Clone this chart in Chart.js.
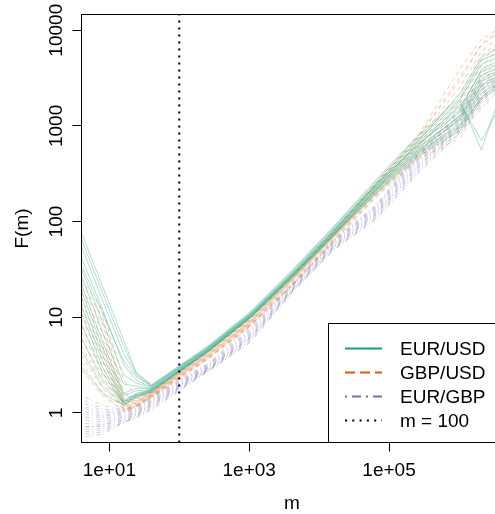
<!DOCTYPE html>
<html>
<head>
<meta charset="utf-8">
<script src="https://cdn.jsdelivr.net/npm/chart.js@4"></script>
<style>
  body { margin: 0; overflow: hidden; background: #fff; }
  canvas { display: block; }
</style>
</head>
<body>
<canvas id="fmChart" width="520" height="514"></canvas>
<script>
// window sizes m (log spaced) and F(m) for each sampled window of each pair
const mValues = [4, 8, 16, 24, 40, 256, 1024, 4096, 16384, 65536, 262144, 1048576, 2097152, 4194304];

const eurUsdLines = [
    [76, 21, 5.8, 2.7, 1.95, 5.0, 11.3, 31, 90, 275, 800, 2000, 4900, 6000],
    [55, 15, 4.2, 2.5, 1.9, 4.85, 10.9, 29.5, 86, 255, 720, 1800, 560, 2500],
    [32, 9, 2.5, 2.05, 1.85, 4.7, 10.6, 28.5, 82, 240, 650, 1400, 3400, 4200],
    [22, 5.5, 1.6, 1.8, 1.8, 4.6, 10.3, 27.5, 79, 230, 600, 1250, 2900, 3800],
    [16, 4.0, 1.35, 1.6, 1.75, 4.5, 10.1, 27, 76, 220, 560, 1150, 2600, 3300],
    [11, 3.0, 1.25, 1.5, 1.7, 4.4, 9.9, 26, 73, 205, 520, 1000, 2200, 3000],
    [6, 2.2, 1.3, 1.55, 1.75, 4.45, 10.0, 26.5, 74, 215, 680, 1600, 3700, 4600],
    [3, 1.6, 1.2, 1.45, 1.65, 4.3, 9.7, 25, 70, 195, 480, 900, 1900, 2700],
    [65, 18, 5.0, 2.6, 1.95, 4.9, 11.0, 30, 88, 265, 760, 1900, 4400, 5500],
    [42, 12, 3.2, 2.2, 1.85, 4.75, 10.7, 29, 84, 248, 620, 1700, 700, 1800],
    [27, 7, 2.0, 1.9, 1.8, 4.65, 10.4, 28, 80, 238, 640, 1500, 3900, 5000],
    [19, 4.8, 1.5, 1.7, 1.75, 4.55, 10.2, 27.5, 78, 228, 580, 1300, 3100, 4000],
    [13, 3.5, 1.3, 1.55, 1.72, 4.45, 10.0, 27, 75, 218, 550, 1200, 2700, 3500],
    [8.5, 2.6, 1.25, 1.5, 1.7, 4.4, 9.9, 26.5, 74, 212, 530, 1050, 2400, 3200],
    [4.5, 1.9, 1.2, 1.45, 1.68, 4.35, 9.8, 26, 72, 200, 500, 950, 2000, 2900],
    [35, 11, 3.5, 2.4, 1.9, 4.7, 10.5, 28, 81, 245, 700, 2200, 5200, 7000]
];
const gbpUsdLines = [
    [23, 10, 1.6, 1.45, 1.65, 4.4, 9.6, 27, 82, 255, 800, 4000, 8000, 11000],
    [18, 7, 1.4, 1.38, 1.62, 4.2, 9.2, 26, 78, 240, 720, 2600, 6000, 9000],
    [14, 5, 1.3, 1.32, 1.6, 4.1, 9.0, 25, 75, 228, 650, 1900, 4800, 7500],
    [11, 4, 1.2, 1.28, 1.57, 4.0, 8.8, 24.5, 73, 218, 600, 1600, 3800, 6000],
    [8, 3, 1.15, 1.24, 1.55, 3.9, 8.6, 24, 71, 208, 560, 1300, 3200, 5200],
    [6, 2.4, 1.1, 1.2, 1.52, 3.8, 8.4, 23, 68, 198, 520, 1100, 2600, 4200],
    [4, 1.8, 1.1, 1.18, 1.5, 3.7, 8.2, 22, 65, 188, 480, 900, 2100, 3500],
    [2.8, 1.5, 1.05, 1.15, 1.45, 3.6, 8.0, 21, 62, 180, 450, 750, 1800, 3000],
    [20, 8.5, 1.5, 1.42, 1.64, 4.3, 9.4, 26.5, 80, 248, 760, 3300, 7000, 10000],
    [16, 6, 1.35, 1.35, 1.6, 4.15, 9.1, 25.5, 76, 234, 690, 2200, 5400, 8000],
    [12.5, 4.5, 1.25, 1.3, 1.58, 4.05, 8.9, 25, 74, 222, 620, 1750, 4300, 6800],
    [9.5, 3.5, 1.2, 1.26, 1.56, 3.95, 8.7, 24, 72, 212, 580, 1450, 3500, 5600],
    [7, 2.7, 1.15, 1.22, 1.53, 3.85, 8.5, 23.5, 69, 203, 540, 1200, 2900, 4700],
    [5, 2.1, 1.1, 1.19, 1.5, 3.75, 8.3, 22.5, 66, 193, 500, 1000, 2400, 3800],
    [3.4, 1.6, 1.05, 1.16, 1.47, 3.65, 8.1, 21.5, 63, 184, 465, 820, 1950, 3200],
    [25, 12, 2.2, 1.5, 1.65, 4.35, 9.5, 26, 79, 244, 780, 3000, 7200, 10500]
];
const eurGbpLines = [
    [1.5, 1.2, 1.08, 1.17, 1.5, 3.3, 8.0, 22, 65, 150, 520, 1500, 3300, 4500],
    [1.3, 1.05, 1.04, 1.12, 1.44, 3.15, 7.4, 21.5, 62, 143, 490, 1350, 2900, 4100],
    [1.15, 0.95, 1.0, 1.08, 1.38, 3.05, 7.0, 21, 60, 137, 460, 1250, 2600, 3800],
    [1.0, 0.88, 0.95, 1.03, 1.32, 2.95, 6.6, 20, 58, 130, 430, 1150, 2300, 3500],
    [0.85, 0.8, 0.9, 0.99, 1.27, 2.9, 6.3, 19.5, 56, 124, 400, 1050, 2100, 3200],
    [0.72, 0.72, 0.85, 0.95, 1.2, 2.8, 6.0, 19, 54, 118, 370, 980, 1900, 3000],
    [0.63, 0.66, 0.8, 0.91, 1.14, 2.75, 5.7, 18.5, 52, 111, 345, 900, 1700, 2700],
    [0.56, 0.6, 0.79, 0.88, 1.08, 2.7, 5.4, 18, 51, 105, 320, 850, 1500, 2500],
    [1.4, 1.1, 1.06, 1.15, 1.47, 3.2, 7.7, 21.8, 63, 147, 505, 1420, 3100, 4300],
    [1.2, 1.0, 1.02, 1.1, 1.41, 3.1, 7.2, 21.2, 61, 140, 475, 1300, 2750, 3950],
    [1.05, 0.92, 0.98, 1.06, 1.35, 3.0, 6.8, 20.5, 59, 134, 445, 1200, 2450, 3650],
    [0.92, 0.84, 0.92, 1.01, 1.3, 2.92, 6.45, 19.8, 57, 127, 415, 1100, 2200, 3350],
    [0.78, 0.76, 0.88, 0.97, 1.24, 2.85, 6.15, 19.2, 55, 121, 385, 1010, 2000, 3100],
    [0.67, 0.69, 0.82, 0.93, 1.17, 2.78, 5.85, 18.8, 53, 114, 355, 940, 1800, 2850],
    [0.6, 0.63, 0.8, 0.9, 1.11, 2.72, 5.55, 18.2, 51.5, 108, 330, 870, 1600, 2600],
    [0.7, 0.75, 0.84, 0.96, 1.22, 2.82, 6.1, 19, 55, 120, 380, 1000, 1950, 3050]
];

const seriesNames = ['EUR/USD', 'GBP/USD', 'EUR/GBP'];
const refM = 100;
const refLabel = 'm = 100';

const xTicks = [10, 1000, 100000];
const xTickLabels = ['1e+01', '1e+03', '1e+05'];
const yTicks = [1, 10, 100, 1000, 10000];
const yTickLabels = ['1', '10', '100', '1000', '10000'];
const xMin = 4, xMax = 4194304;
const yMin = 0.49, yMax = 14600;

const FONT = '19px "Liberation Sans", Arial, sans-serif';
const colors = ['rgb(27,158,119)', 'rgb(217,95,2)', 'rgb(117,112,179)'];
const thinColors = ['rgba(27,158,119,0.33)', 'rgba(217,95,2,0.33)', 'rgba(117,112,179,0.33)'];
const thinDash = [[], [4, 4], [1, 3, 4, 3]];
const legendDash = [[], [10, 5], [2, 5, 9, 5]];

function toPoints(vals) {
    return mValues.map((m, i) => ({ x: m, y: vals[i] }));
}

let datasets = [];
datasets.push({
    label: refLabel,
    data: [{ x: refM, y: yMin }, { x: refM, y: yMax }],
    borderColor: '#000',
    borderWidth: 2,
    borderDash: [2, 5]
});
[eurUsdLines, gbpUsdLines, eurGbpLines].forEach((lines, s) => {
    lines.forEach(vals => {
        datasets.push({
            label: seriesNames[s],
            data: toPoints(vals),
            borderColor: thinColors[s],
            borderWidth: 1,
            borderDash: thinDash[s]
        });
    });
});

const boxAndLabels = {
    id: 'boxAndLabels',
    afterDraw(chart) {
        const ctx = chart.ctx;
        const area = chart.chartArea;
        const ys = chart.scales.y;
        ctx.save();
        ctx.strokeStyle = '#000';
        ctx.lineWidth = 1;
        ctx.setLineDash([]);
        ctx.strokeRect(area.left, area.top, area.right - area.left, area.bottom - area.top);

        ctx.fillStyle = '#000';
        ctx.font = FONT;
        ctx.textAlign = 'center';
        ctx.textBaseline = 'alphabetic';
        yTicks.forEach((v, i) => {
            const py = ys.getPixelForValue(v);
            ctx.save();
            ctx.translate(area.left - 20, py);
            ctx.rotate(-Math.PI / 2);
            ctx.fillText(yTickLabels[i], 0, 0);
            ctx.restore();
        });

        // axis titles
        ctx.fillText('m', (area.left + area.right) / 2, 509);
        ctx.save();
        ctx.translate(28, (area.top + area.bottom) / 2);
        ctx.rotate(-Math.PI / 2);
        ctx.fillText('F(m)', 0, 0);
        ctx.restore();

        // legend box
        const lx = 328.5, ly = 323.5;
        ctx.fillStyle = '#fff';
        ctx.fillRect(lx, ly, area.right - lx, area.bottom - ly);
        ctx.strokeRect(lx, ly, area.right - lx, area.bottom - ly);
        const labels = seriesNames.concat([refLabel]);
        const dashes = legendDash.concat([[2, 5.3]]);
        const cols = colors.concat(['#000']);
        ctx.textAlign = 'left';
        labels.forEach((lab, i) => {
            const cy = 348.5 + i * 24;
            ctx.beginPath();
            ctx.setLineDash(dashes[i]);
            ctx.strokeStyle = cols[i];
            ctx.lineWidth = 2;
            ctx.moveTo(345, cy);
            ctx.lineTo(382, cy);
            ctx.stroke();
            ctx.fillStyle = '#000';
            ctx.fillText(lab, 400, cy + 6.7);
        });
        ctx.restore();
    }
};

const ctx = document.getElementById('fmChart').getContext('2d');
new Chart(ctx, {
    type: 'line',
    data: { datasets: datasets },
    options: {
        responsive: false,
        animation: false,
        devicePixelRatio: 1,
        events: [],
        layout: { padding: { top: 14.5, right: 17.5, left: 0, bottom: 0 } },
        elements: {
            point: { radius: 0 },
            line: { tension: 0, fill: false }
        },
        plugins: {
            legend: { display: false },
            tooltip: { enabled: false }
        },
        scales: {
            x: {
                type: 'logarithmic',
                min: xMin,
                max: xMax,
                afterBuildTicks: scale => { scale.ticks = xTicks.map(v => ({ value: v })); },
                afterFit: scale => { scale.height = 71.5; },
                border: { display: false },
                grid: { drawOnChartArea: false, drawTicks: true, tickLength: 9, color: '#000' },
                ticks: {
                    color: '#000',
                    font: { family: '"Liberation Sans", Arial, sans-serif', size: 19 },
                    padding: 8,
                    maxRotation: 0,
                    autoSkip: false,
                    callback: (v, i) => xTickLabels[i]
                }
            },
            y: {
                type: 'logarithmic',
                min: yMin,
                max: yMax,
                afterBuildTicks: scale => { scale.ticks = yTicks.map(v => ({ value: v })); },
                afterFit: scale => { scale.width = 81.5; },
                border: { display: false },
                grid: { drawOnChartArea: false, drawTicks: true, tickLength: 9, color: '#000' },
                ticks: { display: false }
            }
        }
    },
    plugins: [boxAndLabels]
});
</script>
</body>
</html>
